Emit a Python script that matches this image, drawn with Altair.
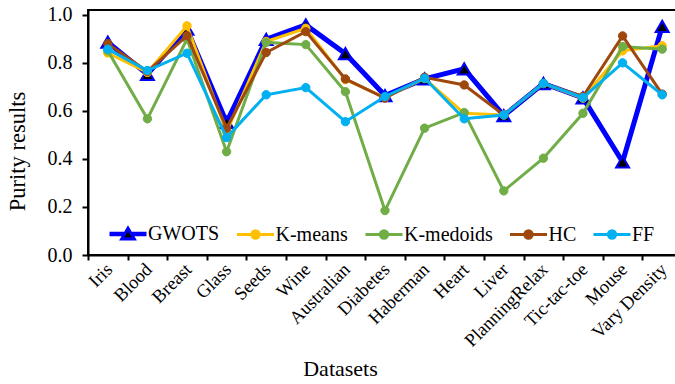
import altair as alt
import pandas as pd

datasets = ["Iris", "Blood", "Breast", "Glass", "Seeds", "Wine", "Australian",
            "Diabetes", "Haberman", "Heart", "Liver", "PlanningRelax",
            "Tic-tac-toe", "Mouse", "Vary Density"]

series_names = ["GWOTS", "K-means", "K-medoids", "HC", "FF"]

gwots = [0.886, 0.752, 0.940, 0.552, 0.898, 0.958, 0.838, 0.664, 0.733, 0.775, 0.580, 0.714, 0.654, 0.388, 0.952]
kmeans = [0.841, 0.760, 0.954, 0.512, 0.889, 0.944, 0.730, 0.655, 0.735, 0.590, 0.583, 0.714, 0.653, 0.850, 0.871]
kmedoids = [0.850, 0.567, 0.899, 0.430, 0.885, 0.876, 0.680, 0.185, 0.528, 0.593, 0.267, 0.403, 0.590, 0.868, 0.857]
hc = [0.880, 0.764, 0.913, 0.528, 0.843, 0.930, 0.733, 0.653, 0.740, 0.708, 0.583, 0.714, 0.660, 0.912, 0.670]
ff = [0.857, 0.768, 0.840, 0.489, 0.667, 0.697, 0.555, 0.660, 0.736, 0.567, 0.583, 0.715, 0.655, 0.800, 0.667]

y_ticks = [0.0, 0.2, 0.4, 0.6, 0.8, 1.0]

line_colors = ["#0000FF", "#FFC000", "#70AD47", "#9E480E", "#00B0F0"]
marker_fills = ["#000000", "#FFC000", "#70AD47", "#9E480E", "#00B0F0"]
line_widths = [5, 3, 3, 3, 3]
marker_shapes = ["triangle-up", "circle", "circle", "circle", "circle"]
marker_sizes = [169, 70, 70, 70, 70]
marker_stroke_widths = [2, 1, 1, 1, 1]

tri_legend = "M-1,-0.04H-0.19M0.19,-0.04H1M-1,0.04H-0.19M0.19,0.04H1M0,-0.32L0.34,0.26L-0.34,0.26Z"
circ_legend = "M-1,0H-0.2M0.2,0H1M0.2,0A0.2,0.2,0,1,1,-0.2,0A0.2,0.2,0,1,1,0.2,0Z"
legend_shapes = [tri_legend, circ_legend, circ_legend, circ_legend, circ_legend]

values_by_series = [gwots, kmeans, kmedoids, hc, ff]
rows = []
for s, vals in zip(series_names, values_by_series):
    for i, (d, v) in enumerate(zip(datasets, vals)):
        rows.append({"idx": i, "dataset": d, "series": s, "value": v})
df = pd.DataFrame(rows)

FONT = "Liberation Serif, Times New Roman, serif"
W, H = 594, 245
unit = W / len(datasets)

x_scale = alt.Scale(domain=[-0.5, len(datasets) - 0.5], nice=False, zero=False)
y_scale = alt.Scale(domain=[0, 1.02], nice=False, zero=True)

label_expr = "[" + ",".join("'" + d + "'" for d in datasets) + "][round(datum.value + 0.5)]"

x_axis = alt.Axis(
    values=[i - 0.5 for i in range(len(datasets))],
    labelExpr=label_expr,
    labelOffset=unit / 2 + 1,
    labelAngle=-45,
    labelAlign="right",
    labelBaseline="middle",
    labelPadding=6,
    labelFont=FONT,
    labelFontSize=18.5,
    labelColor="black",
    labelOverlap=False,
    tickSize=5,
    tickWidth=2,
    tickColor="black",
    domainColor="black",
    domainWidth=2,
    grid=False,
    title="Datasets",
    titleFont=FONT,
    titleFontSize=22,
    titleFontWeight="normal",
    titleColor="black",
    titleX=252,
    titleY=113,
    titleBaseline="middle",
)

y_axis = alt.Axis(
    values=y_ticks,
    format=".1f",
    labelFont=FONT,
    labelFontSize=20,
    labelColor="black",
    labelPadding=10,
    tickSize=6,
    tickWidth=2,
    tickColor="black",
    domainColor="black",
    domainWidth=2,
    grid=False,
    title="Purity results",
    titleFont=FONT,
    titleFontSize=22.5,
    titleFontWeight="normal",
    titleColor="black",
    titleX=-71,
    titleY=141,
    titleBaseline="middle",
)

base = alt.Chart(df)
layers = []
for k, s in enumerate(series_names):
    sub = base.transform_filter(alt.datum.series == s)
    if k == 0:
        xe = alt.X("idx:Q", scale=x_scale, axis=x_axis)
        ye = alt.Y("value:Q", scale=y_scale, axis=y_axis)
    else:
        xe = alt.X("idx:Q", scale=x_scale)
        ye = alt.Y("value:Q", scale=y_scale)
    line = sub.mark_line(strokeWidth=line_widths[k], color=line_colors[k]).encode(
        x=xe, y=ye, order=alt.Order("idx:Q"),
    )
    pts = sub.mark_point(filled=True, opacity=1, size=marker_sizes[k],
                         shape=marker_shapes[k], fill=marker_fills[k],
                         stroke=line_colors[k],
                         strokeWidth=marker_stroke_widths[k]).encode(
        x=alt.X("idx:Q", scale=x_scale),
        y=alt.Y("value:Q", scale=y_scale),
    )
    layers += [line, pts]

leg = alt.Legend(
    orient="none", legendX=20, legendY=204, direction="horizontal", title=None,
    symbolSize=1369, symbolStrokeWidth=3, labelOffset=0, columnPadding=10.5,
    labelFont=FONT, labelFontSize=20, labelColor="black",
)

legend_layer = base.transform_filter("false").mark_point(filled=True, opacity=1).encode(
    x=alt.X("idx:Q", scale=x_scale),
    y=alt.Y("value:Q", scale=y_scale),
    fill=alt.Fill("series:N", scale=alt.Scale(domain=series_names, range=marker_fills), legend=leg),
    stroke=alt.Stroke("series:N", scale=alt.Scale(domain=series_names, range=line_colors), legend=leg),
    shape=alt.Shape("series:N", scale=alt.Scale(domain=series_names, range=legend_shapes), legend=leg),
)
layers.append(legend_layer)

chart = alt.layer(*layers).properties(
    width=W, height=H,
    autosize=alt.AutoSizeParams(type="none"),
    padding={"left": 88, "top": 10, "right": -7, "bottom": 129},
    background="white",
).configure_view(stroke="black", strokeWidth=2)

chart.save("out.html", embed_options={"renderer": "svg", "actions": False})
